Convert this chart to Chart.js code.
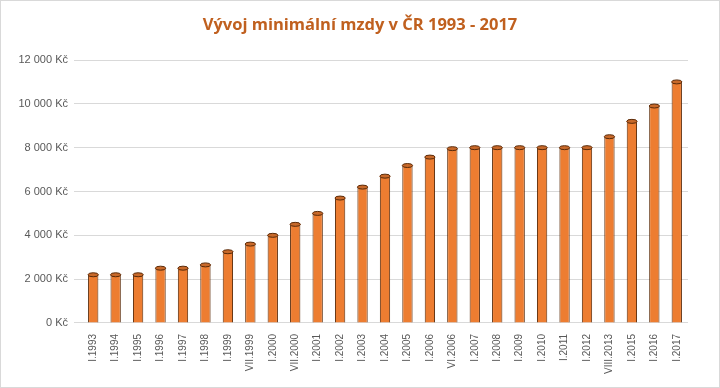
<!DOCTYPE html>
<html>
<head>
<meta charset="utf-8">
<script src="https://cdn.jsdelivr.net/npm/chart.js@4"></script>
<style>
  body { margin: 0; background: #fff; }
  #wrap { width: 720px; height: 388px; }
</style>
</head>
<body>
<div id="wrap"><canvas id="mzdaChart" width="720" height="388"></canvas></div>
<script>
// obdobi a hodnoty minimalni mzdy
const obdobi = ['I.1993', 'I.1994', 'I.1995', 'I.1996', 'I.1997', 'I.1998', 'I.1999', 'VII.1999', 'I.2000',
    'VII.2000', 'I.2001', 'I.2002', 'I.2003', 'I.2004', 'I.2005', 'I.2006', 'VI.2006', 'I.2007', 'I.2008',
    'I.2009', 'I.2010', 'I.2011', 'I.2012', 'VIII.2013', 'I.2015', 'I.2016', 'I.2017'];
const mzdy = [2200, 2200, 2200, 2500, 2500, 2650, 3250, 3600, 4000, 4500, 5000, 5700, 6200, 6700, 7185,
    7570, 7955, 8000, 8000, 8000, 8000, 8000, 8000, 8500, 9200, 9900, 11000];
const osaY = [0, 2000, 4000, 6000, 8000, 10000, 12000];
const nadpis = 'Vývoj minimální mzdy v ČR 1993 - 2017';

function formatKc(v) {
    return v.toString().replace(/\B(?=(\d{3})+(?!\d))/g, ' ') + ' Kč';
}

// valcovy vzhled sloupcu
function valecGradient(context) {
    const el = context.element;
    const chart = context.chart;
    if (!el || !el.width) return '#ED7D31';
    const x0 = el.x - el.width / 2, x1 = el.x + el.width / 2;
    const g = chart.ctx.createLinearGradient(x0, 0, x1, 0);
    g.addColorStop(0, '#B85E1E');
    g.addColorStop(0.25, '#F0883E');
    g.addColorStop(0.5, '#F5934A');
    g.addColorStop(0.8, '#E07226');
    g.addColorStop(1, '#9A4A14');
    return g;
}

const vickaPlugin = {
    id: 'vicka',
    afterDatasetsDraw(chart) {
        const ctx = chart.ctx;
        chart.getDatasetMeta(0).data.forEach(bar => {
            ctx.save();
            ctx.beginPath();
            ctx.ellipse(bar.x, bar.y, bar.width / 2, 2, 0, 0, Math.PI * 2);
            ctx.fillStyle = '#C8692A';
            ctx.fill();
            ctx.strokeStyle = '#5a2a08';
            ctx.lineWidth = 1;
            ctx.stroke();
            ctx.restore();
        });
    },
    afterDraw(chart) {
        const ctx = chart.ctx;
        ctx.save();
        // nadpis na stred celeho obrazku
        ctx.fillStyle = '#C0601F';
        ctx.font = 'bold 16.5px "Open Sans"';
        ctx.textAlign = 'center';
        ctx.textBaseline = 'middle';
        ctx.fillText(nadpis, chart.width / 2, 25);
        ctx.strokeStyle = '#d9d9d9';
        ctx.lineWidth = 1;
        ctx.strokeRect(0.5, 0.5, chart.width - 1, chart.height - 1);
        ctx.restore();
    }
};

const ctx = document.getElementById('mzdaChart').getContext('2d');
const mzdaChart = new Chart(ctx, {
    type: 'bar',
    data: {
        labels: obdobi,
        datasets: [{
            data: mzdy,
            backgroundColor: valecGradient,
            borderColor: '#5a2a08',
            borderWidth: 1,
            barPercentage: 0.46,
            categoryPercentage: 1
        }]
    },
    options: {
        responsive: false,
        animation: false,
        layout: { padding: { left: 10, right: 32, top: 60, bottom: 11 } },
        plugins: {
            legend: { display: false },
            tooltip: { enabled: false },
            title: { display: false }
        },
        scales: {
            x: {
                grid: { display: false },
                border: { display: false },
                ticks: {
                    color: '#595959',
                    font: { family: 'Liberation Sans', size: 10 },
                    maxRotation: 90,
                    minRotation: 90,
                    autoSkip: false
                }
            },
            y: {
                min: 0,
                max: 12000,
                afterBuildTicks: axis => { axis.ticks = osaY.map(v => ({ value: v })); },
                afterFit: axis => { axis.width = 72; },
                border: { display: false },
                grid: { color: '#d9d9d9', tickLength: 8 },
                ticks: {
                    color: '#595959',
                    font: { family: 'Liberation Sans', size: 11 },
                    padding: 6,
                    callback: v => formatKc(v)
                }
            }
        }
    },
    plugins: [vickaPlugin]
});
</script>
</body>
</html>
